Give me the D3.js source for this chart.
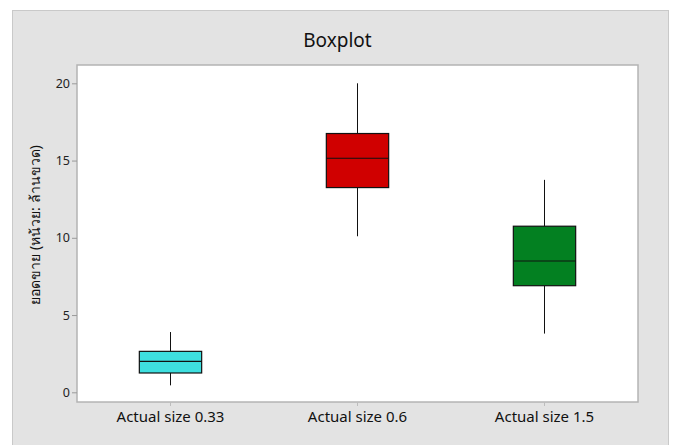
<!DOCTYPE html>
<html>
<head>
<meta charset="utf-8">
<script src="https://cdn.jsdelivr.net/npm/d3@7"></script>
<style>
  html, body { margin: 0; padding: 0; background: #ffffff; }
  svg { display: block; }
</style>
</head>
<body>
<svg id="chart" width="673" height="445"></svg>
<script>
// ---- data ----
const categories = ["Actual size 0.33", "Actual size 0.6", "Actual size 1.5"];
const whiskerLow  = [0.45, 10.1, 3.8];
const q1Values    = [1.25, 13.25, 6.9];
const medianValues= [2.0, 15.15, 8.5];
const q3Values    = [2.65, 16.75, 10.75];
const whiskerHigh = [3.9, 20.0, 13.75];
const boxColors   = ["#3EDFDF", "#D00000", "#038021"];
const yTicks      = [0, 5, 10, 15, 20];
const chartTitle  = "Boxplot";
const yTitle      = "ยอดขาย (หน้วย: ล้านขวด)";

const rows = categories.map((c, i) => ({
  cat: c, lo: whiskerLow[i], q1: q1Values[i], med: medianValues[i],
  q3: q3Values[i], hi: whiskerHigh[i], color: boxColors[i]
}));

const svg = d3.select("#chart");
const font = "'Noto Sans', 'DejaVu Sans', sans-serif";

// outer panel
svg.append("rect").attr("x", 12.5).attr("y", 10.5).attr("width", 656).attr("height", 440)
  .attr("fill", "#e3e3e3").attr("stroke", "#c9c9c9").attr("stroke-width", 1);

const plot = { left: 77, top: 65, right: 638, bottom: 402 };

// plot area
svg.append("rect").attr("x", plot.left).attr("y", plot.top)
  .attr("width", plot.right - plot.left).attr("height", plot.bottom - plot.top)
  .attr("fill", "#ffffff").attr("stroke", "#b4b4b4").attr("stroke-width", 1.5);

const x = d3.scaleBand().domain(categories).range([plot.left, plot.right]).padding(0);
const y = d3.scaleLinear().domain([0, 20]).range([392.3, 83.3]);

// axes
const yAxis = svg.append("g").attr("transform", `translate(${plot.left},0)`)
  .call(d3.axisLeft(y).tickValues(yTicks).tickSize(5).tickPadding(2).tickFormat(d3.format("d")));
yAxis.select(".domain").remove();
yAxis.selectAll(".tick line").attr("stroke", "#9a9a9a");
yAxis.selectAll(".tick text").attr("fill", "#222").style("font-family", font).style("font-size", "12.5px");

const xAxis = svg.append("g").attr("transform", `translate(0,${plot.bottom})`)
  .call(d3.axisBottom(x).tickSize(4).tickPadding(5));
xAxis.select(".domain").remove();
xAxis.selectAll(".tick line").attr("stroke", "#bdbdbd");
xAxis.selectAll(".tick text").attr("fill", "#111").style("font-family", font).style("font-size", "15px");

// boxes
const boxW = x.bandwidth() / 3;
const g = svg.append("g");
const box = g.selectAll("g.box").data(rows).join("g").attr("class", "box");
box.append("line")
  .attr("x1", d => x(d.cat) + x.bandwidth() / 2).attr("x2", d => x(d.cat) + x.bandwidth() / 2)
  .attr("y1", d => y(d.hi)).attr("y2", d => y(d.q3)).attr("stroke", "#111").attr("stroke-width", 1);
box.append("line")
  .attr("x1", d => x(d.cat) + x.bandwidth() / 2).attr("x2", d => x(d.cat) + x.bandwidth() / 2)
  .attr("y1", d => y(d.q1)).attr("y2", d => y(d.lo)).attr("stroke", "#111").attr("stroke-width", 1);
box.append("rect")
  .attr("x", d => x(d.cat) + x.bandwidth() / 2 - boxW / 2).attr("width", boxW)
  .attr("y", d => y(d.q3)).attr("height", d => y(d.q1) - y(d.q3))
  .attr("fill", d => d.color).attr("stroke", "#111").attr("stroke-width", 1.2);
box.append("line")
  .attr("x1", d => x(d.cat) + x.bandwidth() / 2 - boxW / 2).attr("x2", d => x(d.cat) + x.bandwidth() / 2 + boxW / 2)
  .attr("y1", d => y(d.med)).attr("y2", d => y(d.med)).attr("stroke", "#111").attr("stroke-width", 1.2);

// title
svg.append("text").attr("x", 337.5).attr("y", 47).attr("text-anchor", "middle")
  .style("font-family", font).style("font-size", "19px").attr("fill", "#111").text(chartTitle);

// y title
svg.append("text").attr("transform", "translate(40,225) rotate(-90)")
  .attr("text-anchor", "middle")
  .style("font-family", font).style("font-size", "14px").attr("fill", "#111").text(yTitle);
</script>
</body>
</html>
